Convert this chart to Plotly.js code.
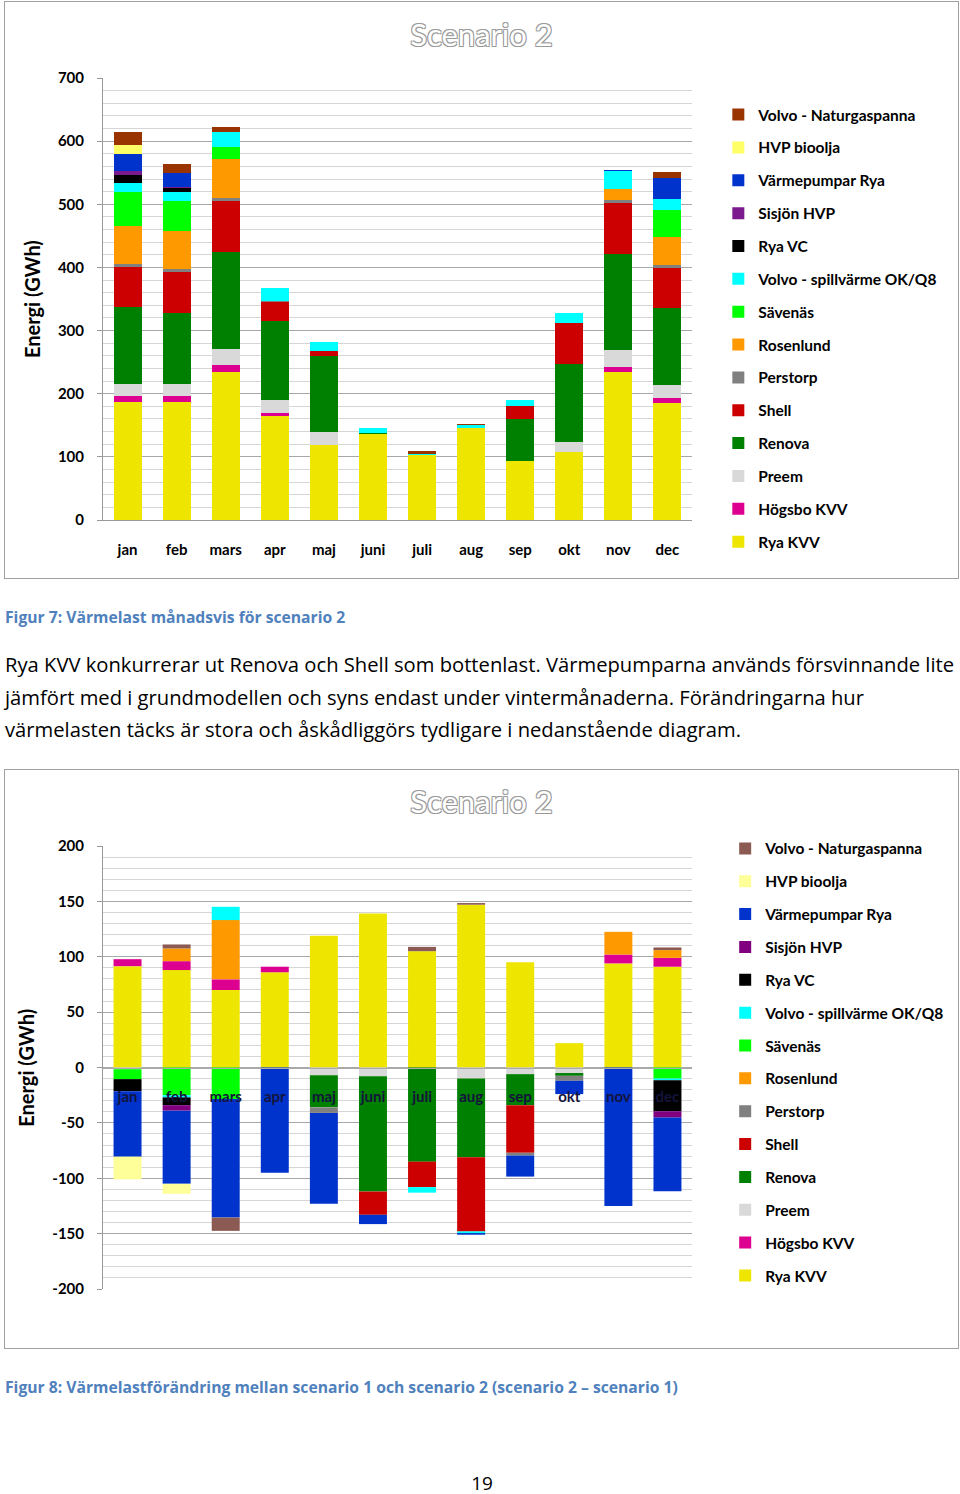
<!DOCTYPE html>
<html>
<head>
<meta charset="utf-8">
<script src="https://cdn.plot.ly/plotly-3.0.1.min.js"></script>
<style>
  html, body { margin:0; padding:0; background:#fff; }
  body { width:960px; height:1494px; position:relative; overflow:hidden; }
  .frame { position:absolute; border:1px solid #a0a0a0; box-sizing:border-box; }
  .plot { position:absolute; }
  .cap { position:absolute; left:5px; font-family:'Open Sans', Lato, sans-serif; font-weight:bold; color:#4F81BD; font-size:15.7px; line-height:20px; white-space:nowrap; }
  .para { position:absolute; left:5px; font-family:'Open Sans', Lato, sans-serif; font-size:20.2px; line-height:32.5px; color:#000; white-space:nowrap; }
  .pnum { position:absolute; left:462px; width:40px; text-align:center; font-family:'Open Sans', sans-serif; font-size:19px; line-height:16px; }
</style>
</head>
<body>
<div class="frame" style="left:4px; top:1px; width:955px; height:578px;"></div>
<div id="c1" class="plot" style="left:5px; top:2px; width:953px; height:576px;"></div>
<div class="cap" style="top:607px;">Figur 7: Värmelast månadsvis för scenario 2</div>
<div class="para" style="top:648px;">Rya KVV konkurrerar ut Renova och Shell som bottenlast. Värmepumparna används försvinnande lite<br>jämfört med i grundmodellen och syns endast under vintermånaderna. Förändringarna hur<br>värmelasten täcks är stora och åskådliggörs tydligare i nedanstående diagram.</div>
<div class="frame" style="left:4px; top:769px; width:955px; height:580px;"></div>
<div id="c2" class="plot" style="left:5px; top:770px; width:953px; height:578px;"></div>
<div class="cap" style="top:1377px;">Figur 8: Värmelastförändring mellan scenario 1 och scenario 2 (scenario 2 – scenario 1)</div>
<div class="pnum" style="top:1475px;">19</div>
<script>
// ---------- shared ----------
const months = ['jan','feb','mars','apr','maj','juni','juli','aug','sep','okt','nov','dec'];
const seriesNames = ['Rya KVV','Högsbo KVV','Preem','Renova','Shell','Perstorp','Rosenlund','Sävenäs',
  'Volvo - spillvärme OK/Q8','Rya VC','Sisjön HVP','Värmepumpar Rya','HVP bioolja','Volvo - Naturgaspanna'];

// ---------- Figur 7: scenario 2 (GWh) ----------
const s2_ryaKVV      = [187, 187, 235, 165, 119, 136, 103, 145,  94, 108, 235, 186];
const s2_hogsbo      = [  9,   9,  11,   5,   0,   0,   0,   0,   0,   0,   7,   8];
const s2_preem       = [ 20,  20,  25,  20,  21,   0,   0,   0,   0,  16,  27,  20];
const s2_renova      = [122, 112, 154, 125, 120,   1,   0,   0,  66, 123, 153, 122];
const s2_shell       = [ 63,  65,  80,  31,   7,   0,   0,   0,  21,  65,  80,  63];
const s2_perstorp    = [  5,   4,   5,   1,   0,   0,   0,   0,   0,   0,   5,   5];
const s2_rosenlund   = [ 60,  60,  61,   0,   0,   0,   0,   0,   0,   0,  18,  44];
const s2_savenas     = [ 54,  49,  20,   0,   0,   0,   0,   0,   0,   0,   0,  43];
const s2_volvoSpill  = [ 14,  14,  24,  20,  15,   8,   1,   5,   9,  16,  27,  18];
const s2_ryaVC       = [ 12,   6,   0,   0,   0,   0,   0,   0,   0,   0,   0,   0];
const s2_sisjon      = [  6,   1,   0,   0,   0,   0,   0,   0,   0,   0,   0,   0];
const s2_varmepumpar = [ 28,  22,   0,   0,   0,   0,   0,   0,   0,   0,   2,  32];
const s2_hvpBio      = [ 14,   0,   0,   0,   0,   0,   0,   0,   0,   0,   0,   0];
const s2_volvoNatgas = [ 20,  15,   8,   0,   0,   0,   5, 1.5,   0,   0,   0,  10];
const yTicks1 = [0, 100, 200, 300, 400, 500, 600, 700];

// ---------- Figur 8: change scenario 2 - scenario 1 (GWh) ----------
const d_ryaKVV      = [91.5,  88,  70,  86, 119, 139, 105, 147,  95,  22,  94,  91];
const d_hogsbo      = [ 6.3,   8, 9.6,   5,   0,   0,   0,   0,   0,   0,   8,   8];
const d_preem       = [-1.5,   0,   0,   0,  -7,  -8,   0, -10,  -6,  -5,   0,   0];
const d_renova      = [   0,   0,   0,   0, -29,-104, -85, -71, -28,-2.5,   0,   0];
const d_shell       = [   0,   0,   0,   0,   0, -21, -23, -67, -43,   0,   0,   0];
const d_perstorp    = [   0,   0,   0,   0,  -5,   0,   0,   0,-2.5,-4.5,   0,   0];
const d_rosenlund   = [   0,11.5,53.5,   0,   0,   0,   0,   0,   0,   0,20.5,   7];
const d_savenas     = [  -9, -25,-28.5,  0,   0,   0,   0,   0,   0,   0,   0, -10];
const d_volvoSpill  = [   0,  -2,  12,   0,   0,   0,  -5,-1.5,   0,   0,   0,-1.5];
const d_ryaVC       = [ -11,  -7,   0,   0,   0,   0,   0,   0,   0,   0,   0, -28];
const d_sisjon      = [   0,  -5,   0,   0,   0,   0,   0,   0,   0,   0,   0,-5.7];
const d_varmepumpar = [ -59, -66,-107, -95, -82,-8.4,   0,-1.5, -19, -12,-125,-66.5];
const d_hvpBio      = [-20.5, -9,   0,   0,   0,   0,   0,   0,   0,   0,   0,   0];
const d_volvoNatgas = [   0, 3.6, -12,   0,   0,   0, 3.9, 1.5,   0,   0,   0, 2.4];
const yTicks2 = [-200, -150, -100, -50, 0, 50, 100, 150, 200];
const yTickText2 = ['-200', '-150', '-100', '-50', '0', '50', '100', '150', '200'];

const colors1 = ['#EEE600','#DD0090','#D9D9D9','#008000','#CC0000','#808080','#FF9900','#00FF00',
  '#00FFFF','#000000','#7A1A8C','#0033CC','#FFFF66','#993300'];
const colors2 = ['#EEE600','#DD0090','#D9D9D9','#008000','#CC0000','#808080','#FF9900','#00FF00',
  '#00FFFF','#000000','#800080','#0033CC','#FFFF99','#8B5A52'];

const s2Series = [s2_ryaKVV, s2_hogsbo, s2_preem, s2_renova, s2_shell, s2_perstorp, s2_rosenlund, s2_savenas,
  s2_volvoSpill, s2_ryaVC, s2_sisjon, s2_varmepumpar, s2_hvpBio, s2_volvoNatgas];
const dSeries = [d_ryaKVV, d_hogsbo, d_preem, d_renova, d_shell, d_perstorp, d_rosenlund, d_savenas,
  d_volvoSpill, d_ryaVC, d_sisjon, d_varmepumpar, d_hvpBio, d_volvoNatgas];

const FONT = 'Lato, "Open Sans", sans-serif';
const outline = '-1px -1px 0 #9a9a9a, 1px -1px 0 #9a9a9a, -1px 1px 0 #9a9a9a, 1px 1px 0 #9a9a9a';

function makeTraces(series, colors) {
  return series.map((vals, i) => ({
    type: 'bar', x: months, y: vals, name: seriesNames[i], legendgroup: seriesNames[i],
    legendrank: series.length - i,
    marker: { color: colors[i], line: { width: 0 } }, hoverinfo: 'skip'
  }));
}

function baseLayout(opts) {
  return {
    width: opts.w, height: opts.h,
    margin: { l: 98, r: opts.w - 98 - 589, t: opts.t, b: opts.h - opts.t - opts.ph, pad: 0, autoexpand: false },
    paper_bgcolor: '#fff', plot_bgcolor: '#fff',
    barmode: opts.barmode, bargap: 0.43,
    showlegend: true,
    title: { text: 'Scenario 2', x: 0.5, xanchor: 'center', xref: 'container', y: opts.titleY, yref: 'container', yanchor: 'middle',
      font: { family: FONT, size: 31, color: '#ffffff', shadow: outline } },
    legend: { x: opts.lx, xref: 'container', xanchor: 'left', y: opts.ly, yref: 'container', yanchor: 'top',
      traceorder: 'grouped', tracegroupgap: 9.7,
      maxheight: 560, itemwidth: 30, font: { family: FONT, size: 15.5, color: '#000', weight: 'bold' }, bgcolor: 'rgba(0,0,0,0)' },
    annotations: [{ text: 'Energi (GWh)', textangle: -90, xref: 'paper', yref: 'paper', x: opts.atx, y: 0.5,
      xanchor: 'center', yanchor: 'middle', showarrow: false, font: { family: FONT, size: 20, color: '#000', weight: 'bold' } }],
    font: { family: FONT }
  };
}

// chart 1
const L1 = baseLayout({ w: 953, h: 576, t: 76, ph: 442, barmode: 'stack', titleY: 1 - 33/576, lx: 0.7485, ly: 0.8333, atx: -0.1205 });
L1.xaxis = { type: 'category', showline: true, linecolor: '#999', linewidth: 1, ticks: '', ticklabelstandoff: 16,
  tickfont: { family: FONT, size: 15, color: '#000', weight: 'bold' }, showgrid: false, zeroline: false };
L1.yaxis = { range: [0, 700], tickvals: yTicks1, showline: true, linecolor: '#999', linewidth: 1, ticks: 'outside', ticklen: 5, tickcolor: '#999',
  ticklabelstandoff: 10, tickfont: { family: FONT, size: 15, color: '#000', weight: 'bold' },
  showgrid: true, gridcolor: '#a8a8a8', gridwidth: 1, zeroline: false,
  minor: { dtick: 20, showgrid: true, gridcolor: '#d6d6d6', gridwidth: 1, ticks: '' } };
Plotly.newPlot('c1', makeTraces(s2Series, colors1), L1, { staticPlot: true, displayModeBar: false });

// chart 2
const L2 = baseLayout({ w: 953, h: 578, t: 76, ph: 443, barmode: 'relative', titleY: 1 - 32/578, lx: 0.7557, ly: 0.893, atx: -0.132 });
L2.xaxis = { type: 'category', anchor: 'free', position: 0.5, showline: true, linecolor: '#aaa', linewidth: 1, ticks: '', ticklabelstandoff: 15,
  tickfont: { family: FONT, size: 15, color: '#14143c', weight: 'bold' }, showgrid: false, zeroline: false, layer: 'above traces' };
L2.yaxis = { range: [-200, 200], tickvals: yTicks2, ticktext: yTickText2, showline: true, linecolor: '#999', linewidth: 1, ticks: 'outside', ticklen: 5, tickcolor: '#999',
  ticklabelstandoff: 10, tickfont: { family: FONT, size: 15, color: '#000', weight: 'bold' },
  showgrid: true, gridcolor: '#a8a8a8', gridwidth: 1, zeroline: false,
  minor: { dtick: 10, showgrid: true, gridcolor: '#d6d6d6', gridwidth: 1, ticks: '' } };
Plotly.newPlot('c2', makeTraces(dSeries, colors2), L2, { staticPlot: true, displayModeBar: false });
</script>
</body>
</html>
